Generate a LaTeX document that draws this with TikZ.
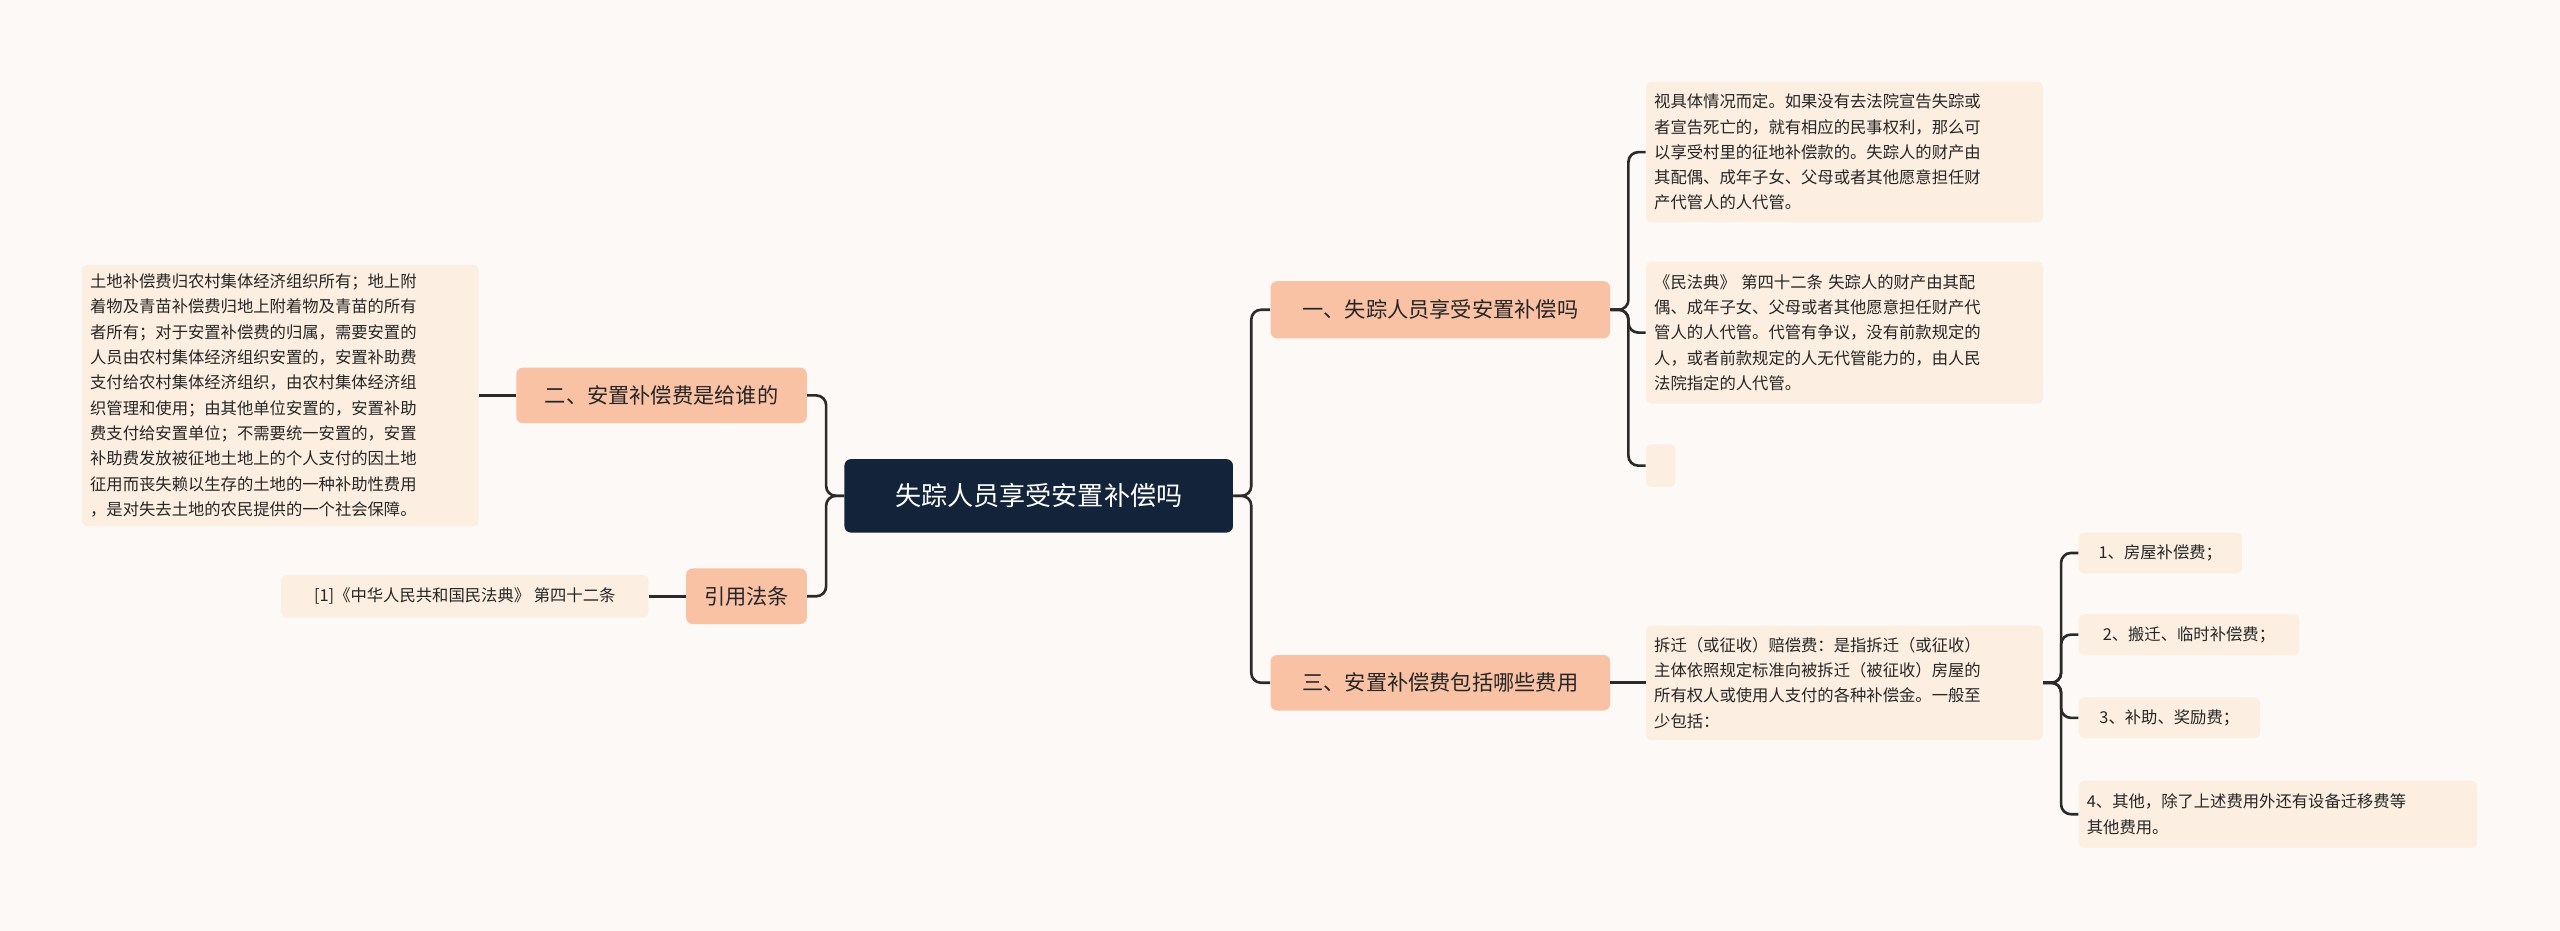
\documentclass[tikz,border=0pt]{standalone}
\usepackage{fontspec}
\setmainfont{Noto Sans CJK SC}
\usetikzlibrary{calc}
\definecolor{bgc}{HTML}{FDF9F7}
\definecolor{rootc}{HTML}{13233A}
\definecolor{branchc}{HTML}{FAC2A4}
\definecolor{leafc}{HTML}{FCEEE1}
\definecolor{linec}{HTML}{2A2A2A}
\tikzset{
  rootbox/.style={fill=rootc,text=white,rounded corners=4pt,anchor=north west,inner sep=0pt,
    font=\fontsize{16}{18}\selectfont},
  branchbox/.style={fill=branchc,text=black!85,rounded corners=4pt,anchor=north west,inner sep=0pt,
    font=\fontsize{13}{15}\selectfont},
  leafbox/.style={fill=leafc,text=black!85,rounded corners=3pt,anchor=north west,inner sep=5pt,
    align=left,font=\fontsize{10}{15.5}\selectfont},
  link/.style={draw=linec,line width=1.6pt,rounded corners=6pt}
}
\begin{document}
\begin{tikzpicture}[x=1pt,y=-1pt]
\useasboundingbox[fill=bgc] (0,0) rectangle (1568,570);
% centre
\node[rootbox,minimum width=238pt,minimum height=45pt] (root) at (517,281) {失踪人员享受安置补偿吗};
% branches
\node[branchbox,minimum width=208pt,minimum height=35pt] (lost) at (778,172) {一、失踪人员享受安置补偿吗};
\node[branchbox,minimum width=208pt,minimum height=34pt] (cost) at (778,401) {三、安置补偿费包括哪些费用};
\node[branchbox,minimum width=178pt,minimum height=34pt] (owner) at (316,225) {二、安置补偿费是给谁的};
\node[branchbox,minimum width=74pt,minimum height=34pt] (cite) at (420,348) {引用法条};
% leaves
\node[leafbox,text width=233pt,minimum height=86pt] (lostA) at (1008,50)
  {视具体情况而定。如果没有去法院宣告失踪或\\者宣告死亡的，就有相应的民事权利，那么可\\以享受村里的征地补偿款的。失踪人的财产由\\其配偶、成年子女、父母或者其他愿意担任财\\产代管人的人代管。};
\node[leafbox,text width=233pt,minimum height=87pt] (lostB) at (1008,160)
  {《民法典》 第四十二条 失踪人的财产由其配\\偶、成年子女、父母或者其他愿意担任财产代\\管人的人代管。代管有争议，没有前款规定的\\人，或者前款规定的人无代管能力的，由人民\\法院指定的人代管。};
\node[leafbox,inner sep=0pt,minimum width=18pt,minimum height=26pt] (lostC) at (1008,272) {};
\node[leafbox,text width=233pt,minimum height=70pt] (costA) at (1008,383)
  {拆迁（或征收）赔偿费：是指拆迁（或征收）\\主体依照规定标准向被拆迁（被征收）房屋的\\所有权人或使用人支付的各种补偿金。一般至\\少包括：};
\node[leafbox,minimum width=100pt,minimum height=25pt] (item1) at (1273,326) {1、房屋补偿费；};
\node[leafbox,minimum width=135pt,minimum height=25pt] (item2) at (1273,376) {2、搬迁、临时补偿费；};
\node[leafbox,minimum width=111pt,minimum height=25pt] (item3) at (1273,427) {3、补助、奖励费；};
\node[leafbox,text width=234pt,minimum height=41pt] (item4) at (1273,478)
  {4、其他，除了上述费用外还有设备迁移费等\\其他费用。};
\node[leafbox,text width=233pt,minimum height=160pt] (ownerA) at (50,162)
  {土地补偿费归农村集体经济组织所有；地上附\\着物及青苗补偿费归地上附着物及青苗的所有\\者所有；对于安置补偿费的归属，需要安置的\\人员由农村集体经济组织安置的，安置补助费\\支付给农村集体经济组织，由农村集体经济组\\织管理和使用；由其他单位安置的，安置补助\\费支付给安置单位；不需要统一安置的，安置\\补助费发放被征地土地上的个人支付的因土地\\征用而丧失赖以生存的土地的一种补助性费用\\，是对失去土地的农民提供的一个社会保障。};
\node[leafbox,minimum width=225pt,minimum height=26pt] (citeA) at (172,352) {[1]《中华人民共和国民法典》 第四十二条};
% connectors
\foreach \c in {lost,cost}
  \draw[link] (root.east) -- ++(11,0) |- (\c.west);
\foreach \c in {owner,cite}
  \draw[link] (root.west) -- ++(-11,0) |- (\c.east);
\foreach \c in {lostA,lostB,lostC}
  \draw[link] (lost.east) -- ++(11,0) |- (\c.west);
\draw[link] (cost.east) -- (costA.west|-cost.east);
\foreach \c in {item1,item2,item3,item4}
  \draw[link] (costA.east|-cost.east) -- ++(11,0) |- (\c.west);
\draw[link] (owner.west) -- (ownerA.east|-owner.west);
\draw[link] (cite.west) -- (citeA.east|-cite.west);
\end{tikzpicture}
\end{document}
